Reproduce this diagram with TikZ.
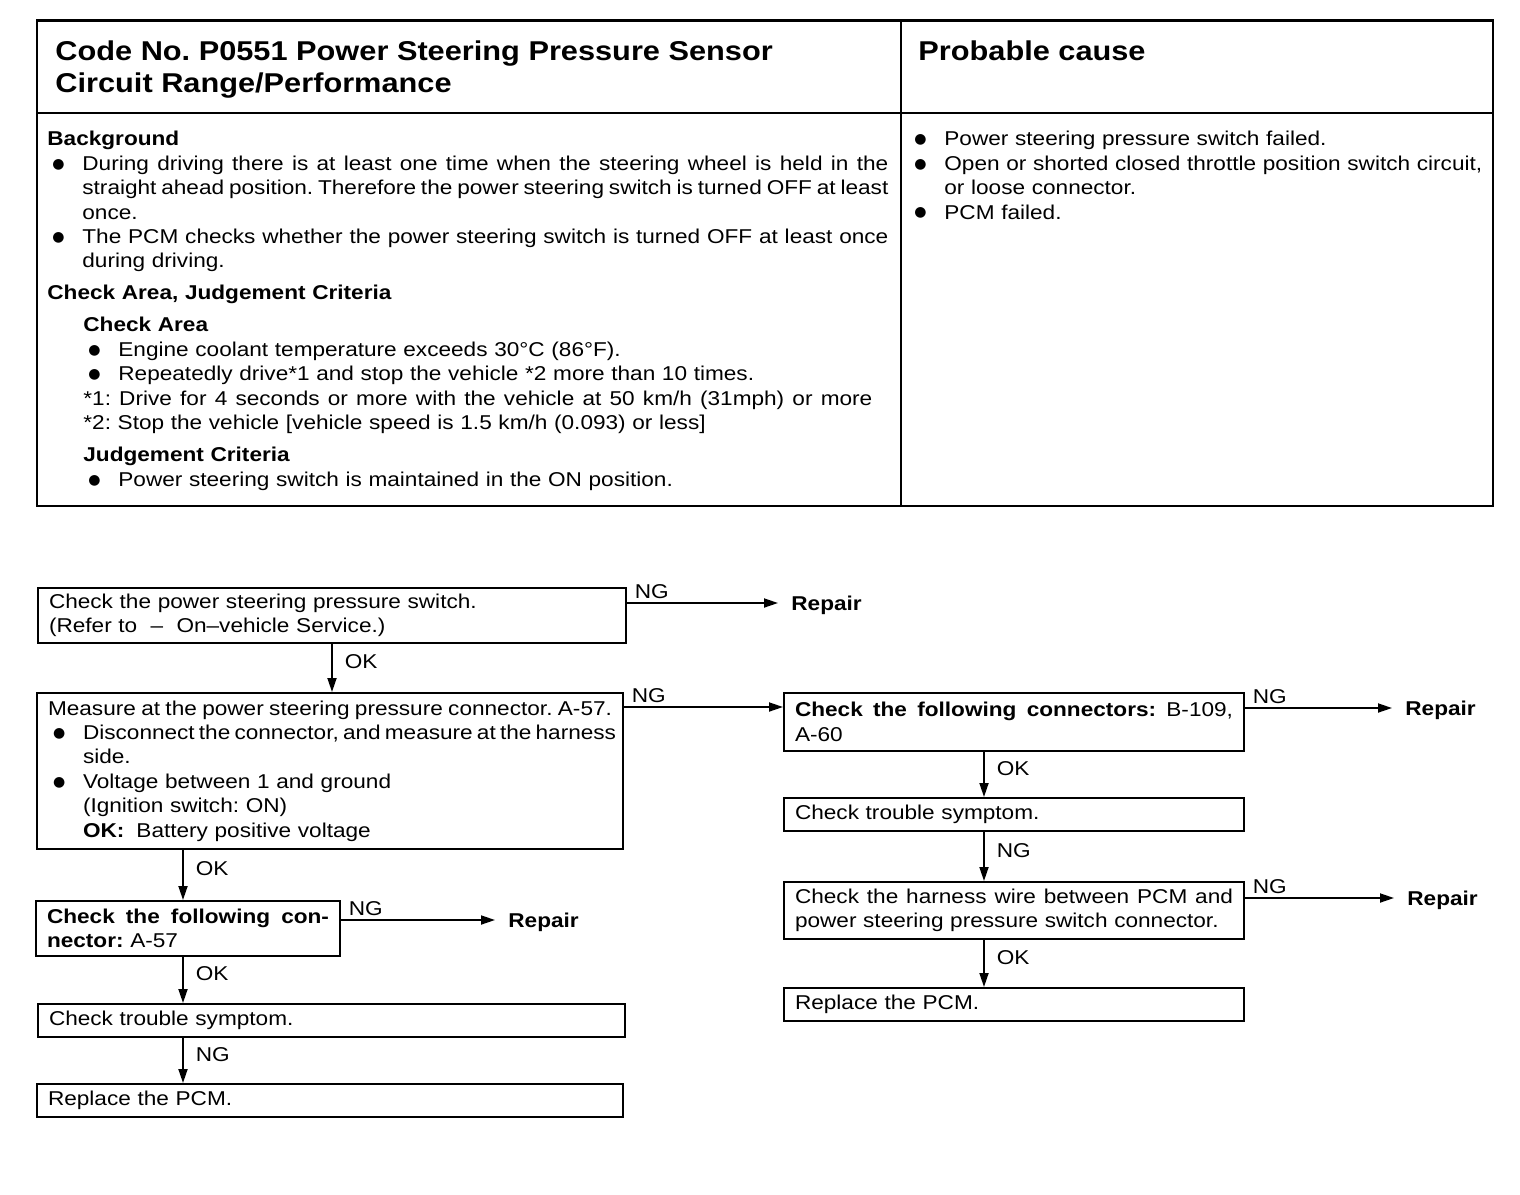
\documentclass[tikz,border=0pt]{standalone}
\usepackage{fontspec}
\setmainfont{Liberation Sans}[FakeStretch=1.13]
\newfontfamily\symfont{DejaVu Sans}
\usetikzlibrary{arrows.meta}

\newcommand{\dotmark}{\raisebox{1.1pt}{\symfont\fontsize{7}{8}\selectfont ●}}
\newcommand{\bl}{\hspace*{2.5pt}\makebox[15pt][l]{\dotmark}}
\newcommand{\bli}{\hspace*{20.5pt}\makebox[15pt][l]{\dotmark}}
\newcommand{\ind}{\hspace*{17.5pt}}
\newcommand{\jl}[1]{\hbox to \dimexpr\hsize-17.5pt\relax{\spaceskip=0pt\xspaceskip=0pt #1}}
\newcommand{\fl}[1]{\hbox to \hsize{\spaceskip=0pt\xspaceskip=0pt #1}}

\begin{document}
\frenchspacing
\begin{tikzpicture}[x=0.5pt, y=-0.5pt, font=\fontsize{10}{12.2}\selectfont,
        frame/.style={line width=1pt},
        txt/.style={inner sep=0pt, anchor=north west, align=left},
        head/.style={txt, font=\fontsize{13.6}{16}\selectfont\bfseries},
        box/.style={draw, line width=1pt, anchor=north west, align=left, inner xsep=5.5pt, inner ysep=0pt},
        rep/.style={anchor=west, inner xsep=6.5pt, inner ysep=0pt, text height=7.2pt, text depth=0pt, font=\bfseries},
        link/.style={draw, line width=0.9pt, -{Triangle[length=7pt, width=4.5pt]}},
        ng/.style={pos=0, anchor=south west, inner xsep=3.5pt, inner ysep=1.5pt},
        ok/.style={midway, anchor=west, inner xsep=6pt, yshift=3pt}]
    \useasboundingbox (0,0) rectangle (1520,1194);

    % table
    \draw[frame] (37,20) rectangle (1493,506);
    \draw[line width=1.5pt] (37,20) -- (1493,20);
    \draw[frame] (901,20) -- (901,506);
    \draw[frame] (37,113) -- (1493,113);

    \node[head] (code) at (55,40) {Code No. P0551 Power Steering Pressure Sensor\\Circuit Range/Performance};
    \node[head] (cause) at (918,40) {Probable cause};

    \node[txt, text width=420.5pt] (bg) at (47,131) {\textbf{Background}\\
        \bl\jl{During driving there is at least one time when the steering wheel is held in the}\\
        \ind\jl{straight ahead position. Therefore the power steering switch is turned OFF at least}\\
        \ind once.\\
        \bl\jl{The PCM checks whether the power steering switch is turned OFF at least once}\\
        \ind during driving.\\[3.8pt]
        \textbf{Check Area, Judgement Criteria}\\[3.8pt]
        \hspace*{18pt}\textbf{Check Area}\\
        \bli Engine coolant temperature exceeds 30°C (86°F).\\
        \bli Repeatedly drive*1 and stop the vehicle *2 more than 10 times.\\
        \hspace*{18pt}\hbox to 394.5pt{\spaceskip=0pt *1: Drive for 4 seconds or more with the vehicle at 50 km/h (31mph) or more}\\
        \hspace*{18pt}*2: Stop the vehicle [vehicle speed is 1.5 km/h (0.093) or less]\\[4pt]
        \hspace*{18pt}\textbf{Judgement Criteria}\\
        \bli Power steering switch is maintained in the ON position.};

    \node[txt, text width=288pt] (prob) at (909,131) {\bl Power steering pressure switch failed.\\
        \bl Open or shorted closed throttle position switch circuit,\\
        \ind or loose connector.\\
        \bl PCM failed.};

    % flow chart
    \node[box, text width=283pt, minimum height=27.5pt] (sw) at (37,587) {Check the power steering pressure switch.\\(Refer to~~–~~On–vehicle Service.)};
    \node[box, text width=282pt, minimum height=78pt] (meas) at (36,692) {\fl{Measure at the power steering pressure connector. A-57.}\\
        \bl\jl{Disconnect the connector, and measure at the harness}\\
        \ind side.\\
        \bl Voltage between 1 and ground\\
        \ind (Ignition switch: ON)\\
        \ind\textbf{OK:}\hspace{0.6em}Battery positive voltage};
    \node[box, text width=141pt, minimum height=27.5pt] (con) at (35,900) {\fl{\textbf{Check the following con-}}\\\textbf{nector:} A-57};
    \node[box, text width=282.5pt, minimum height=16.5pt] (sym) at (37,1003) {Check trouble symptom.};
    \node[box, text width=282pt, minimum height=16.5pt] (pcm) at (36,1083) {Replace the PCM.};

    \node[box, text width=219pt, minimum height=29pt] (cons) at (783,692) {\fl{\textbf{Check the following connectors:} B-109,}\\A-60};
    \node[box, text width=219pt, minimum height=16.5pt] (sym2) at (783,797) {Check trouble symptom.};
    \node[box, text width=219pt, minimum height=28.5pt] (wire) at (783,881) {\fl{Check the harness wire between PCM and}\\power steering pressure switch connector.};
    \node[box, text width=219pt, minimum height=16.5pt] (pcm2) at (783,987) {Replace the PCM.};

    \node[rep] (rep1) at (778,603) {Repair};
    \node[rep] (rep2) at (495,920) {Repair};
    \node[rep] (rep3) at (1392,708) {Repair};
    \node[rep] (rep4) at (1394,898) {Repair};

    \draw[link] (sw.north east |- rep1.west) -- node[ng] {NG} (rep1.west);
    \draw[link] (sw.south) -- node[ok] {OK} (sw.south |- meas.north);
    \draw[link] ([yshift=-7.5pt]meas.north east) -- node[ng] {NG} ([yshift=-7.5pt]meas.north east -| cons.west);
    \draw[link] ([xshift=-2.5pt]con.north |- meas.south) -- node[ok] {OK} ([xshift=-2.5pt]con.north);
    \draw[link] (con.north east |- rep2.west) -- node[ng] {NG} (rep2.west);
    \draw[link] ([xshift=-2.5pt]con.south) -- node[ok] {OK} ([xshift=-2.5pt]con.south |- sym.north);
    \draw[link] ([xshift=-2.5pt]con.south |- sym.south) -- node[ok] {NG} ([xshift=-2.5pt]con.south |- pcm.north);

    \draw[link] (cons.north east |- rep3.west) -- node[ng] {NG} (rep3.west);
    \draw[link] ([xshift=-15pt]cons.south) -- node[ok] {OK} ([xshift=-15pt]cons.south |- sym2.north);
    \draw[link] ([xshift=-15pt]cons.south |- sym2.south) -- node[ok] {NG} ([xshift=-15pt]cons.south |- wire.north);
    \draw[link] (wire.north east |- rep4.west) -- node[ng] {NG} (rep4.west);
    \draw[link] ([xshift=-15pt]cons.south |- wire.south) -- node[ok] {OK} ([xshift=-15pt]cons.south |- pcm2.north);
\end{tikzpicture}
\end{document}
